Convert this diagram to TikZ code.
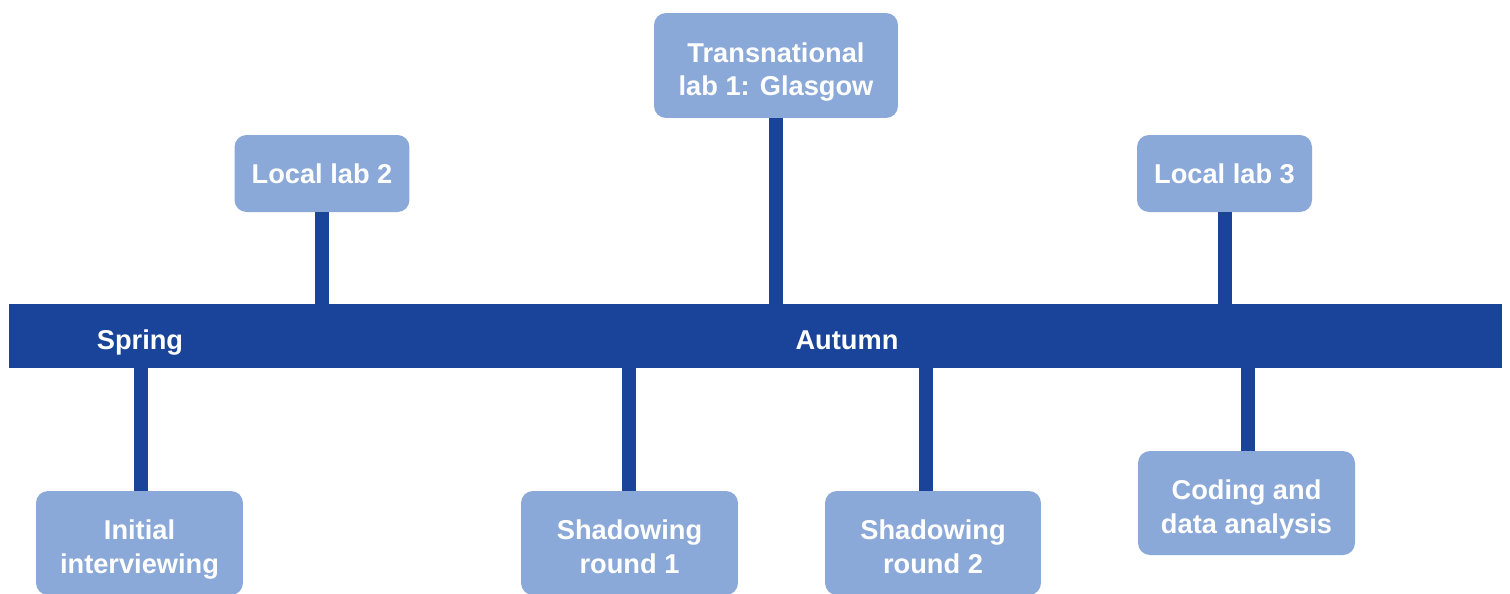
\documentclass[tikz,border=0pt]{standalone}
\usepackage{fontspec}
\setmainfont{Liberation Sans}
\definecolor{bardark}{HTML}{19449A}
\definecolor{boxlight}{HTML}{8BA9D8}
\begin{document}
\begin{tikzpicture}[x=0.02cm,y=-0.02cm,
    every node/.style={font=\fontsize{15.5}{19}\selectfont\bfseries,text=white,align=center,inner sep=0pt},
    box/.style={fill=boxlight,rounded corners=0.24cm,minimum height=2.08cm},
    twoline/.style={text height=34.5pt,text depth=0pt},
    stem/.style={draw=bardark,line width=0.28cm}]

        \clip (0,0) rectangle (1510,593);
        \useasboundingbox (0,0) rectangle (1510,593);

        % time bar
        \node[fill=bardark,minimum width=29.86cm,minimum height=1.28cm] (bar) at (755.5,336) {};
        \node[anchor=base] (spring) at (140,349) {Spring};
        \node[anchor=base] (autumn) at (847,349) {Autumn};

        % above the bar
        \node[box,minimum width=3.5cm,minimum height=1.54cm] (lab2) at (322,173.5) {Local lab 2};
        \node[box,twoline,minimum width=4.88cm,minimum height=2.1cm] (glasgow) at (776,65.5) {Transnational\\lab 1: Glasgow};
        \node[box,minimum width=3.5cm,minimum height=1.54cm] (lab3) at (1224.5,173.5) {Local lab 3};

        % below the bar
        \node[box,twoline,minimum width=4.14cm] (interview) at (139.5,543) {Initial\\interviewing};
        \node[box,twoline,minimum width=4.34cm] (shadow1) at (629.5,543) {Shadowing\\round 1};
        \node[box,twoline,minimum width=4.32cm] (shadow2) at (933,543) {Shadowing\\round 2};
        \node[box,twoline,minimum width=4.34cm] (coding) at (1246.5,503) {Coding and\\data analysis};

        \begin{scope}[every path/.style={stem}]
          \path (lab2.south)    -- (lab2.south |- bar.north);
          \path (glasgow.south) -- (glasgow.south |- bar.north);
          \path (lab3.south)    -- (lab3.south |- bar.north);
          \path (bar.south -| 141,0)  -- (141,491) coordinate (c1);
          \path (bar.south -| 629,0)  -- (629,491) coordinate (c2);
          \path (bar.south -| 926,0)  -- (926,491) coordinate (c3);
          \path (bar.south -| 1248,0) -- (1248,451) coordinate (c4);
        \end{scope}

      \end{tikzpicture}
\end{document}
